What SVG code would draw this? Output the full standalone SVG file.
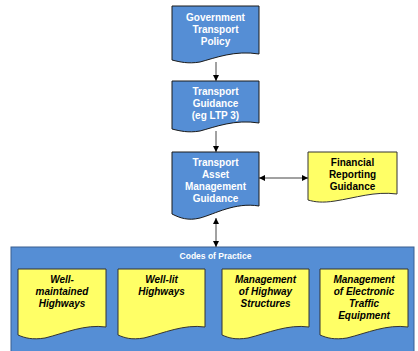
<svg xmlns="http://www.w3.org/2000/svg" width="418" height="351" viewBox="0 0 418 351">
<defs>
<style>
.blue{fill:#558ED5;stroke:#1a1a1a;stroke-width:1}
.yel{fill:#FFFF66;stroke:#333;stroke-width:1}
.panel{fill:#558ED5;stroke:#3a5f90;stroke-width:1}
.wt{font-family:"Liberation Sans",Arial,sans-serif;font-weight:bold;font-size:10px;fill:#fff;text-anchor:middle}
.bt{font-family:"Liberation Sans",Arial,sans-serif;font-weight:bold;font-size:10px;fill:#000;text-anchor:middle}
.it{font-family:"Liberation Sans",Arial,sans-serif;font-weight:bold;font-style:italic;font-size:10px;fill:#000;text-anchor:middle}
.ttl{font-family:"Liberation Sans",Arial,sans-serif;font-weight:bold;font-size:8.5px;fill:#fff;text-anchor:middle}
.con{stroke:#444;stroke-width:1;fill:none}
</style>
<marker id="ah" viewBox="0 0 10 10" refX="10" refY="5" markerWidth="6" markerHeight="6" orient="auto-start-reverse" markerUnits="userSpaceOnUse">
<path d="M0,0 L10,5 L0,10 z" fill="#000"/>
</marker>
</defs>
<rect width="418" height="351" fill="#fff"/>

<g id="codes-panel">
<rect class="panel" x="11" y="247" width="403" height="110"/>
<text class="ttl" x="215.5" y="259">Codes of Practice</text>
</g>

<g id="gov-policy">
<path class="blue" d="M172,6 H259 V54 C235,50 215,58 200,62 C188,64 180,62 172,60 Z"/>
<text class="wt" x="215.5" y="21">Government</text>
<text class="wt" x="215.5" y="33">Transport</text>
<text class="wt" x="215.5" y="45">Policy</text>
</g>

<g id="transport-guidance">
<path class="blue" d="M172,81 H259 V123 C235,119 215,127 200,131 C188,133 180,131 172,129 Z"/>
<text class="wt" x="215.5" y="95">Transport</text>
<text class="wt" x="215.5" y="107">Guidance</text>
<text class="wt" x="215.5" y="119">(eg LTP 3)</text>
</g>

<g id="tam-guidance">
<path class="blue" d="M172,152 H259 V206 C235,202 215,214 200,218 C188,221 180,218 172,214 Z"/>
<text class="wt" x="215.5" y="166">Transport</text>
<text class="wt" x="215.5" y="178">Asset</text>
<text class="wt" x="215.5" y="190">Management</text>
<text class="wt" x="215.5" y="202">Guidance</text>
</g>

<g id="financial">
<path class="yel" d="M308,152 H397 V194 C375,191 355,198 335,201 C322,203 315,202 308,200 Z"/>
<text class="bt" x="352.5" y="166">Financial</text>
<text class="bt" x="352.5" y="178">Reporting</text>
<text class="bt" x="352.5" y="190">Guidance</text>
</g>

<g id="well-maintained">
<path class="yel" d="M18,269 H106 V327 C85,324 65,333 45,338 C32,340 25,338 18,335 Z"/>
<text class="it" x="62" y="283">Well-</text>
<text class="it" x="62" y="295">maintained</text>
<text class="it" x="62" y="307">Highways</text>
</g>

<g id="well-lit">
<path class="yel" d="M118,269 H205 V327 C184,324 164,333 144,338 C131,340 125,338 118,335 Z"/>
<text class="it" x="161.5" y="283">Well-lit</text>
<text class="it" x="161.5" y="295">Highways</text>
</g>

<g id="highway-structures">
<path class="yel" d="M222,269 H309 V327 C288,324 268,333 248,338 C235,340 229,338 222,335 Z"/>
<text class="it" x="265.5" y="283">Management</text>
<text class="it" x="265.5" y="295">of Highway</text>
<text class="it" x="265.5" y="307">Structures</text>
</g>

<g id="electronic-traffic">
<path class="yel" d="M320,269 H408 V327 C387,324 367,333 347,338 C334,340 327,338 320,335 Z"/>
<text class="it" x="364" y="283">Management</text>
<text class="it" x="364" y="295">of Electronic</text>
<text class="it" x="364" y="307">Traffic</text>
<text class="it" x="364" y="319">Equipment</text>
</g>

<g id="connectors">
<line class="con" x1="216" y1="62" x2="216" y2="81" marker-end="url(#ah)"/>
<line class="con" x1="216" y1="131" x2="216" y2="152" marker-end="url(#ah)"/>
<line class="con" x1="216" y1="218" x2="216" y2="247" marker-start="url(#ah)" marker-end="url(#ah)"/>
<line class="con" x1="259" y1="178" x2="308" y2="178" marker-start="url(#ah)" marker-end="url(#ah)"/>
</g>
</svg>
